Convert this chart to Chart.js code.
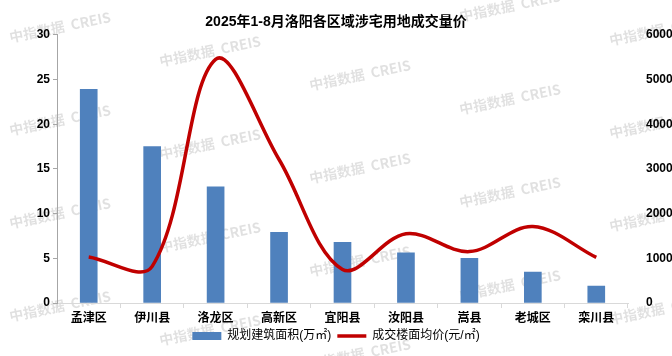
<!DOCTYPE html>
<html><head><meta charset="utf-8">
<script src="https://cdn.jsdelivr.net/npm/chart.js@4"></script>
<style>html,body{margin:0;padding:0;background:#fff;overflow:hidden}</style>
</head><body>
<canvas id="c" width="672" height="356" style="display:block;width:672px;height:356px"></canvas>
<script>
const titleText = '2025年1-8月洛阳各区域涉宅用地成交量价';
const categories = ['孟津区','伊川县','洛龙区','高新区','宜阳县','汝阳县','嵩县','老城区','栾川县'];
const areaLabel = '规划建筑面积(万㎡)';
const priceLabel = '成交楼面均价(元/㎡)';
const plannedArea = [23.9, 17.5, 13.0, 7.9, 6.8, 5.6, 5.0, 3.45, 1.9];
const avgPrice = [1030, 820, 5450, 3210, 750, 1550, 1150, 1710, 1020];
const leftTicks = [0, 5, 10, 15, 20, 25, 30];
const rightTicks = [0, 1000, 2000, 3000, 4000, 5000, 6000];
const watermarkText = '中指数据  CREIS';

const FONT = "'Liberation Sans', 'Noto Sans CJK SC', sans-serif";

const watermarkPlugin = {
  id: 'watermark',
  beforeDraw(chart) {
    const ctx = chart.ctx;
    ctx.save();
    ctx.font = "bold 14px 'Noto Sans CJK SC', sans-serif";
    ctx.fillStyle = 'rgba(0,0,0,0.12)';
    ctx.textAlign = 'center';
    ctx.textBaseline = 'middle';
    for (let c = 0; c < 5; c++) {
      const cx = 60 + 150 * c;
      for (let r = -1; r < 5; r++) {
        const cy = 27 + 24 * c + 93 * r;
        if (cy < -20 || cy > 380) continue;
        ctx.save();
        ctx.translate(cx, cy);
        ctx.rotate(-0.2);
        ctx.fillText(watermarkText, 0, 0);
        ctx.restore();
      }
    }
    ctx.restore();
  }
};

new Chart(document.getElementById('c'), {
  data: {
    labels: categories,
    datasets: [
      {
        type: 'line',
        label: priceLabel,
        data: avgPrice,
        yAxisID: 'y1',
        borderColor: '#c00000',
        backgroundColor: '#c00000',
        borderWidth: 3.5,
        pointRadius: 0,
        pointStyle: 'line',
        tension: 0.35,
        fill: false
      },
      {
        type: 'bar',
        label: areaLabel,
        data: plannedArea,
        yAxisID: 'y',
        backgroundColor: '#4f81bd',
        borderWidth: 0,
        pointStyle: 'rect',
        barThickness: 17
      }
    ]
  },
  options: {
    responsive: false,
    animation: false,
    devicePixelRatio: 1,
    layout: { padding: { top: 0, left: 0, right: 0, bottom: 4 } },
    plugins: {
      title: {
        display: true,
        text: titleText,
        color: '#000',
        font: { family: FONT, size: 14, weight: 'bold' },
        padding: { top: 14, bottom: 4 }
      },
      legend: {
        position: 'bottom',
        reverse: true,
        labels: {
          usePointStyle: true,
          pointStyleWidth: 29,
          boxHeight: 8,
          padding: 6,
          color: '#000',
          font: { family: FONT, size: 12 }
        }
      },
      tooltip: { enabled: false }
    },
    scales: {
      x: {
        grid: { offset: true, drawOnChartArea: false, drawTicks: true, tickLength: 5, color: '#d9d9d9' },
        border: { color: '#d9d9d9', width: 1 },
        ticks: { color: '#000', font: { family: FONT, size: 12, weight: 'bold' }, padding: 3, maxRotation: 0, autoSkip: false },
        afterFit(s) { s.height = 21; }
      },
      y: {
        position: 'left',
        min: 0, max: 30,
        afterBuildTicks(s) { s.ticks = leftTicks.map(v => ({ value: v })); },
        grid: { drawOnChartArea: false, drawTicks: true, tickLength: 4, color: '#a6a6a6' },
        border: { color: '#a6a6a6', width: 1 },
        ticks: { color: '#000', font: { family: FONT, size: 12, weight: 'bold' }, padding: 3, callback: v => String(v) },
        afterFit(s) { s.width = 57; }
      },
      y1: {
        position: 'right',
        min: 0, max: 6000,
        afterBuildTicks(s) { s.ticks = rightTicks.map(v => ({ value: v })); },
        grid: { display: false },
        border: { display: false },
        ticks: { color: '#000', font: { family: FONT, size: 12, weight: 'bold' }, padding: 10, callback: v => String(v) },
        afterFit(s) { s.width = 44; }
      }
    }
  },
  plugins: [watermarkPlugin]
});
</script>
</body></html>
